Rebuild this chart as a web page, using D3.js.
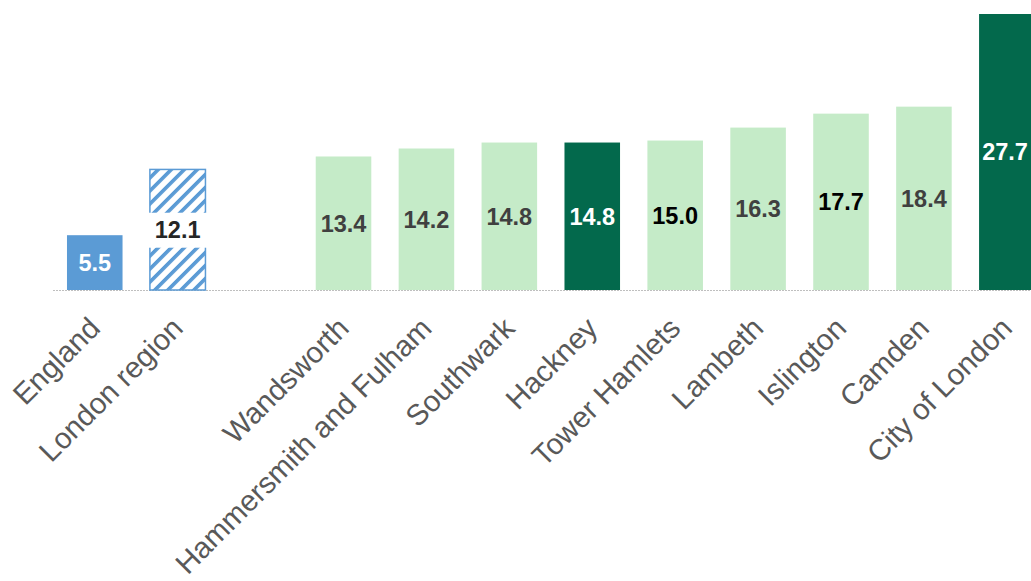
<!DOCTYPE html>
<html lang="en">
<head>
<meta charset="UTF-8">
<script src="https://d3js.org/d3.v7.min.js"></script>
<style>
  body { margin: 0; padding: 0; background: #fff; }
  svg { display: block; font-family: Arial, "Liberation Sans", sans-serif; }
</style>
</head>
<body>
<div id="chart"></div>
<script>
// comparators on the left, then the boroughs (sorted)
const compareNames = ["England", "London region"];
const compareValues = [5.5, 12.1];
const boroughNames = ["Wandsworth", "Hammersmith and Fulham", "Southwark", "Hackney",
  "Tower Hamlets", "Lambeth", "Islington", "Camden", "City of London"];
const boroughValues = [13.4, 14.2, 14.8, 14.8, 15.0, 16.3, 17.7, 18.4, 27.7];

const W = 1031, H = 581, base = 290;

let data = compareNames.map((n, i) => ({ name: n, value: compareValues[i], group: "cmp" }))
  .concat(boroughNames.map((n, i) => ({ name: n, value: boroughValues[i], group: "bor" })));
const gap = "\u00a0";   // empty slot between the two groups
const domain = compareNames.concat([gap], boroughNames);

const svg = d3.select("#chart").append("svg").attr("width", W).attr("height", H);

const defs = svg.append("defs");
const pat = defs.append("pattern").attr("id", "hatch")
  .attr("patternUnits", "userSpaceOnUse").attr("width", 9.2).attr("height", 9.2)
  .attr("patternTransform", "rotate(45)");
pat.append("rect").attr("width", 9.2).attr("height", 9.2).attr("fill", "#fff");
pat.append("rect").attr("x", 0).attr("width", 3.6).attr("height", 9.2).attr("fill", "#5b9bd5");

const x = d3.scaleBand().domain(domain).range([53.3, 1048.3]).paddingInner(0.33).paddingOuter(0.165);
const y = d3.scaleLinear().domain([0, 27.7]).range([base, 14]);

function fillOf(d) {
  if (d.name === "England") return "#5b9bd5";
  if (d.name === "London region") return "url(#hatch)";
  if (d.name === "Hackney" || d.name === "City of London") return "#03694c";
  return "#c5ebc8";
}
function labelColor(d) {
  if (d.name === "England" || d.name === "Hackney" || d.name === "City of London") return "#fff";
  if (d.name === "Tower Hamlets" || d.name === "Islington") return "#000";
  if (d.name === "London region") return "#262626";
  return "#404040";
}

// baseline
svg.append("line").attr("x1", 53).attr("x2", W).attr("y1", base + 0.5).attr("y2", base + 0.5)
  .attr("stroke", "#bfbfbf").attr("stroke-width", 1).attr("stroke-dasharray", "2,1");

svg.selectAll("rect.bar").data(data).enter().append("rect").attr("class", "bar")
  .attr("x", d => x(d.name)).attr("width", x.bandwidth())
  .attr("y", d => y(d.value)).attr("height", d => base - y(d.value))
  .attr("fill", fillOf)
  .attr("stroke", d => d.name === "London region" ? "#5b9bd5" : "none")
  .attr("stroke-width", 1.5);

// white box behind the hatched bar label
const lr = data.find(d => d.name === "London region");
svg.append("rect")
  .attr("x", x(lr.name) - 2).attr("width", x.bandwidth() + 4)
  .attr("y", (y(lr.value) + base) / 2 - 17).attr("height", 35)
  .attr("fill", "#fff");

// value labels, centred on the visible part of each bar
svg.selectAll("text.val").data(data).enter().append("text").attr("class", "val")
  .attr("x", d => (x(d.name) + Math.min(x(d.name) + x.bandwidth(), W)) / 2)
  .attr("y", d => (y(d.value) + base) / 2)
  .attr("dy", "0.36em")
  .attr("text-anchor", "middle")
  .attr("font-size", 23.5).attr("font-weight", "bold")
  .attr("fill", labelColor)
  .text(d => d.value.toFixed(1));

// category labels, rotated
svg.selectAll("text.cat").data(data).enter().append("text").attr("class", "cat")
  .attr("transform", d => `translate(${x(d.name) + x.bandwidth() / 2 + 7},${base + 40}) rotate(-45)`)
  .attr("text-anchor", "end")
  .attr("font-size", 29.5)
  .attr("fill", "#595959")
  .text(d => d.name);
</script>
</body>
</html>
